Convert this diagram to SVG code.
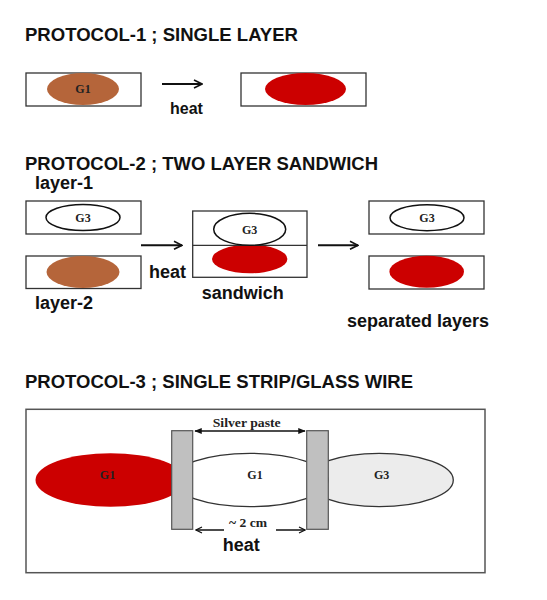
<svg xmlns="http://www.w3.org/2000/svg" width="547" height="600" viewBox="0 0 547 600">
<defs>
<style>
.title{font-family:"Liberation Sans",Arial,sans-serif;font-weight:bold;font-size:17.5px;fill:#111}
.lbl{font-family:"Liberation Sans",Arial,sans-serif;font-weight:bold;font-size:18px;fill:#111}
.g{font-family:"Liberation Serif","Times New Roman",serif;font-weight:bold;font-size:12px;fill:#222;text-anchor:middle}
.sv{font-family:"Liberation Serif","Times New Roman",serif;font-weight:bold;font-size:13px;fill:#222}
.box{fill:#fff;stroke:#333;stroke-width:1.3}
.brown{fill:#b5653a}
.red{fill:#cc0000}
.wh{fill:#fff;stroke:#111;stroke-width:1.5}
.conn{stroke:#111;stroke-width:2;fill:none}
.thin{stroke:#111;stroke-width:1.5;fill:none}
.paste{fill:#c0c0c0;stroke:#555;stroke-width:1.2}
</style>
<marker id="open" viewBox="0 0 10 10" refX="9" refY="5" markerWidth="5" markerHeight="5" orient="auto" markerUnits="strokeWidth">
<path d="M1,1 L9,5 L1,9" fill="none" stroke="#111" stroke-width="1.6"/>
</marker>
<marker id="fill" viewBox="0 0 10 10" refX="9" refY="5" markerWidth="5" markerHeight="5" orient="auto-start-reverse" markerUnits="strokeWidth">
<path d="M0,1 L10,5 L0,9 Z" fill="#111"/>
</marker>
</defs>
<rect width="547" height="600" fill="#fff"/>

<text class="title" x="25" y="41" textLength="273" lengthAdjust="spacingAndGlyphs">PROTOCOL-1 ; SINGLE LAYER</text>
<text class="title" x="25" y="170" textLength="353" lengthAdjust="spacingAndGlyphs">PROTOCOL-2 ; TWO LAYER SANDWICH</text>
<text class="title" x="25" y="388" textLength="388" lengthAdjust="spacingAndGlyphs">PROTOCOL-3 ; SINGLE STRIP/GLASS WIRE</text>

<g id="p1-before">
<rect class="box" x="26" y="73" width="115" height="33"/>
<ellipse class="brown" cx="83" cy="89" rx="36" ry="16"/>
<text class="g" x="83" y="93">G1</text>
</g>
<g id="p1-after">
<rect class="box" x="241" y="73" width="125" height="33"/>
<ellipse class="red" cx="305.5" cy="89" rx="40.5" ry="16"/>
</g>

<g id="p2-layer1">
<rect class="box" x="26" y="201" width="115" height="33"/>
<ellipse class="wh" cx="83" cy="217.5" rx="37" ry="13"/>
<text class="g" x="83" y="222">G3</text>
<text class="lbl" x="35" y="189">layer-1</text>
</g>
<g id="p2-layer2">
<rect class="box" x="26" y="256" width="115" height="32.5"/>
<ellipse class="brown" cx="83" cy="272" rx="36.5" ry="16"/>
<text class="lbl" x="35" y="309">layer-2</text>
</g>
<g id="p2-sandwich">
<rect class="box" x="192.7" y="211" width="114.3" height="66.3"/>
<ellipse class="red" cx="249.7" cy="259" rx="37.7" ry="14.3"/>
<line x1="192.7" y1="245.3" x2="307" y2="245.3" stroke="#333" stroke-width="1.3"/>
<ellipse class="wh" cx="249.7" cy="229.3" rx="36" ry="16"/>
<text class="g" x="249.7" y="234">G3</text>
<text class="lbl" x="201.7" y="299">sandwich</text>
</g>
<g id="p2-sep-top">
<rect class="box" x="369" y="201" width="115" height="33"/>
<ellipse class="wh" cx="427" cy="217.7" rx="37" ry="13"/>
<text class="g" x="427" y="222">G3</text>
</g>
<g id="p2-sep-bottom">
<rect class="box" x="369" y="256" width="115" height="33"/>
<ellipse class="red" cx="426.7" cy="271.7" rx="37.3" ry="16"/>
<text class="lbl" x="347" y="327">separated layers</text>
</g>

<g id="p3-strip">
<rect x="26" y="409.3" width="459" height="163.4" fill="#fff" stroke="#555" stroke-width="1.5"/>
<ellipse class="red" cx="110.5" cy="480" rx="75" ry="26.7"/>
<ellipse cx="379.3" cy="480" rx="74" ry="26.7" fill="#ececec" stroke="#333" stroke-width="1.3"/>
<ellipse cx="250" cy="480" rx="78" ry="26.7" fill="#fff" stroke="#333" stroke-width="1.3"/>
<rect class="paste" x="171.7" y="430.7" width="21" height="98.6"/>
<rect class="paste" x="306.7" y="430.7" width="21.6" height="98.6"/>
<text class="g" x="107.5" y="478.5">G1</text>
<text class="g" x="255" y="478.5">G1</text>
<text class="g" x="381.7" y="478.5">G3</text>
<text class="sv" x="212.7" y="427.3" textLength="68" lengthAdjust="spacingAndGlyphs">Silver paste</text>
<text class="sv" x="229" y="527.3" textLength="38" lengthAdjust="spacingAndGlyphs">~ 2 cm</text>
<text class="lbl" x="222.7" y="551">heat</text>
</g>

<g id="connectors">
<line class="conn" x1="162" y1="84" x2="202" y2="84" marker-end="url(#open)"/>
<text class="lbl" x="170" y="114" style="font-size:16px">heat</text>
<line class="conn" x1="141" y1="245.3" x2="182" y2="245.3" marker-end="url(#open)"/>
<text class="lbl" x="149" y="278">heat</text>
<line class="conn" x1="318" y1="245.3" x2="358" y2="245.3" marker-end="url(#open)"/>
<line class="thin" x1="195" y1="431" x2="305" y2="431" marker-start="url(#fill)" marker-end="url(#fill)"/>
<line class="thin" x1="224" y1="530" x2="196" y2="530" marker-end="url(#open)"/>
<line class="thin" x1="276" y1="530" x2="305" y2="530" marker-end="url(#open)"/>
</g>
</svg>
